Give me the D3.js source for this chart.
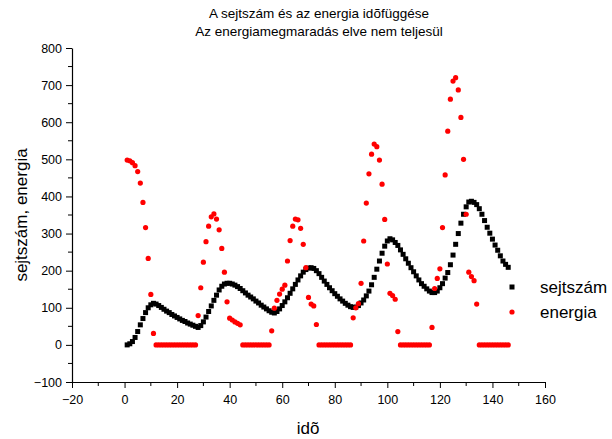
<!DOCTYPE html>
<html><head><meta charset="utf-8">
<script src="https://cdn.jsdelivr.net/npm/d3@7"></script>
<style>
body{margin:0;background:#fff;}
svg{display:block;font-family:Arial,"Liberation Sans",sans-serif;}
</style></head>
<body><svg id="c" width="612" height="439"></svg>
<script>
const titleLines = ["A sejtszám és az energia idõfüggése", "Az energiamegmaradás elve nem teljesül"];
const xLabel = "idõ";
const yLabel = "sejtszám, energia";
const seriesNames = ["sejtszám", "energia"];
const xTicks = [-20, 0, 20, 40, 60, 80, 100, 120, 140, 160];
const yTicks = [-100, 0, 100, 200, 300, 400, 500, 600, 700, 800];

const ido = [1,2,3,4,5,6,7,8,9,10,11,12,13,14,15,16,17,18,19,20,21,22,23,24,25,26,27,28,29,30,
31,32,33,34,35,36,37,38,39,40,41,42,43,44,45,46,47,48,49,50,51,52,53,54,55,56,57,58,59,60,
61,62,63,64,65,66,67,68,69,70,71,72,73,74,75,76,77,78,79,80,81,82,83,84,85,86,87,88,89,90,
91,92,93,94,95,96,97,98,99,100,101,102,103,104,105,106,107,108,109,110,111,112,113,114,115,116,117,118,119,120,
121,122,123,124,125,126,127,128,129,130,131,132,133,134,135,136,137,138,139,140,141,142,143,144,145,146];

const sejtszam = [0,3,9,20,36,54,71,87,100,108,112,
110,106,101,96,91,87,82,78,74,70,66,63,59,56,53,50,47,
52,62,75,90,105,120,134,148,158,164,166,166,164,161,157,152,146,140,134,129,124,118,113,107,102,97,92,88,86,
90,97,106,116,127,139,151,163,175,186,196,203,207,208,206,200,192,182,172,163,154,146,138,131,124,118,112,107,103,101,
102,106,113,121,132,145,162,182,204,226,247,266,280,286,283,276,268,256,244,232,220,208,197,186,175,165,158,151,145,141,
141,145,154,165,180,195,216,242,271,300,328,352,372,385,387,384,378,367,352,335,317,301,285,269,255,240,226,217,209];

const energia = [498,496,491,483,467,436,384,316,233,136,31,
0,0,0,0,0,0,0,0,0,0,0,0,0,0,0,0,
79,154,223,278,320,345,353,339,310,260,196,116,72,67,62,58,54,
0,0,0,0,0,0,0,0,0,0,0,
38,99,120,137,150,161,226,281,320,339,337,314,271,208,128,110,105,55,
0,0,0,0,0,0,0,0,0,0,0,0,0,
73,100,111,166,280,382,461,514,541,534,498,433,338,218,139,133,123,36,
0,0,0,0,0,0,0,0,0,0,0,0,
47,152,179,205,316,458,576,662,711,720,687,613,500,352,196,184,173,110,
0,0,0,0,0,0,0,0,0,0,0,0];

const svg = d3.select("#c");
const x = d3.scaleLinear().domain([-20, 160]).range([72, 545]);
const y = d3.scaleLinear().domain([-100, 800]).range([382, 48]);

// title
svg.selectAll("text.title").data(titleLines).join("text")
  .attr("class","title").attr("x", 319).attr("y", (d,i)=>17.5 + i*18)
  .attr("text-anchor","middle").attr("font-size","13.5px").attr("fill","#000").text(d=>d);

// axes
const xMinor = d3.range(-20, 161, 10).filter(v => v % 20 !== 0);
const yMinor = d3.range(-100, 801, 50).filter(v => v % 100 !== 0);

const gx = svg.append("g").attr("transform",`translate(0,${y(-100)})`);
gx.call(d3.axisBottom(x).tickValues(xTicks).tickSize(6).tickSizeOuter(0).tickFormat(d3.format("d")));
gx.selectAll(".minor").data(xMinor).join("line").attr("class","minor")
  .attr("x1",d=>x(d)).attr("x2",d=>x(d)).attr("y1",0).attr("y2",4).attr("stroke","#000");
const gy = svg.append("g").attr("transform",`translate(${x(-20)},0)`);
gy.call(d3.axisLeft(y).tickValues(yTicks).tickSize(6).tickSizeOuter(0).tickFormat(d3.format("d")));
gy.selectAll(".minor").data(yMinor).join("line").attr("class","minor")
  .attr("x1",0).attr("x2",-4).attr("y1",d=>y(d)).attr("y2",d=>y(d)).attr("stroke","#000");
svg.selectAll(".domain").attr("stroke","#000").attr("stroke-width",1.2);
svg.selectAll(".tick line").attr("stroke","#000");
svg.selectAll(".tick text").attr("font-size","12.5px").attr("fill","#000").style("font-family","Arial,'Liberation Sans',sans-serif");
gx.selectAll(".tick text").attr("dy","1.0em");
gy.selectAll(".tick text").attr("dx","-1px");

// axis titles
svg.append("text").attr("x", 308).attr("y", 434).attr("text-anchor","middle")
  .attr("font-size","17px").attr("fill","#000").text(xLabel);
svg.append("text").attr("transform","translate(27,215) rotate(-90)").attr("text-anchor","middle")
  .attr("font-size","17px").attr("fill","#000").text(yLabel);

// data
const sq = 5;
svg.append("g").selectAll("rect").data(ido).join("rect")
  .attr("x",(d,i)=>x(d)-sq/2).attr("y",(d,i)=>y(sejtszam[i])-sq/2)
  .attr("width",sq).attr("height",sq).attr("fill","#000");
svg.append("g").selectAll("circle").data(ido).join("circle")
  .attr("cx",d=>x(d)).attr("cy",(d,i)=>y(energia[i])).attr("r",2.6).attr("fill","#ff0000");

// legend
const lg = svg.append("g");
lg.append("rect").attr("x",512-sq/2).attr("y",287-sq/2).attr("width",sq).attr("height",sq).attr("fill","#000");
lg.append("circle").attr("cx",512).attr("cy",312).attr("r",2.6).attr("fill","#ff0000");
lg.selectAll("text").data(seriesNames).join("text")
  .attr("x",540).attr("y",(d,i)=>293 + i*25).attr("font-size","17px").attr("fill","#000").text(d=>d);
</script></body></html>
